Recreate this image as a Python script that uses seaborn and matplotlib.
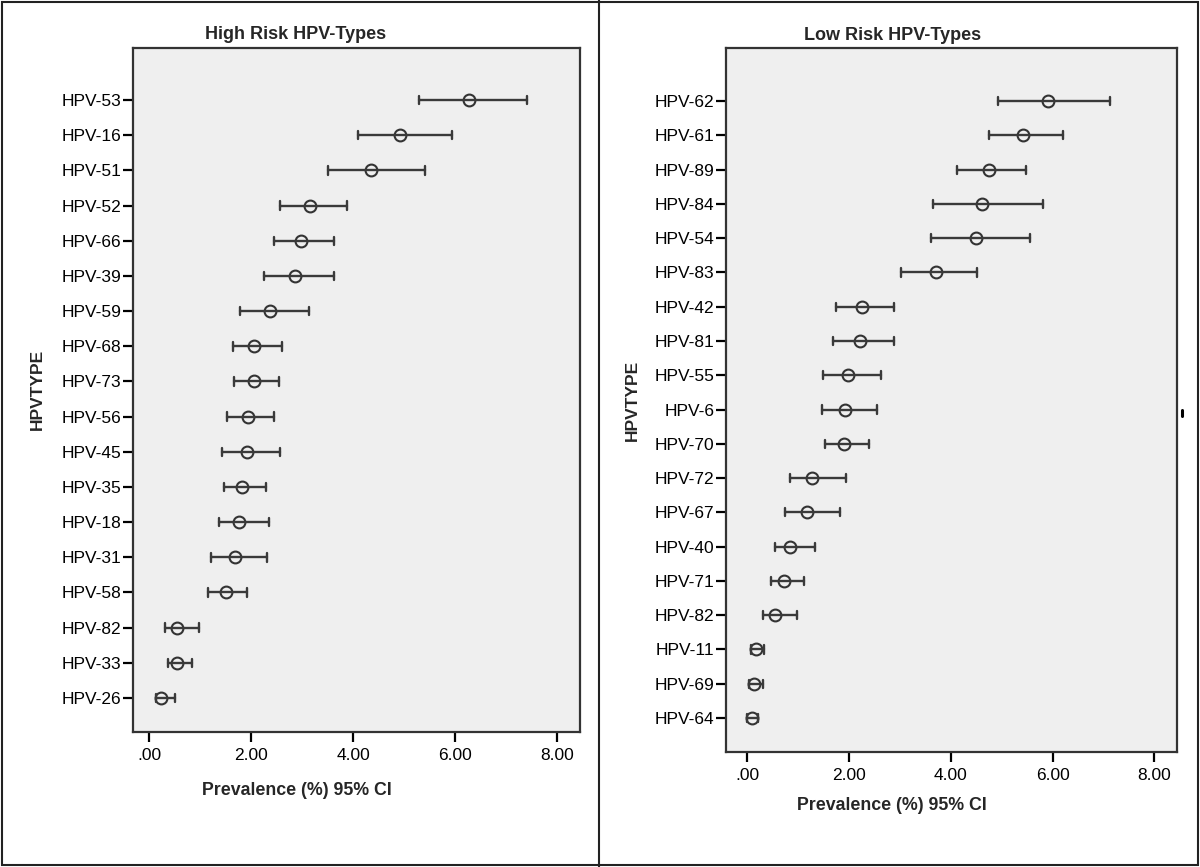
import pandas as pd
import matplotlib.pyplot as plt
import seaborn as sns
from matplotlib.lines import Line2D
from matplotlib.patches import Rectangle

# High risk HPV types: prevalence (%) with 95% CI
high_types = ['HPV-53', 'HPV-16', 'HPV-51', 'HPV-52', 'HPV-66', 'HPV-39', 'HPV-59', 'HPV-68', 'HPV-73',
              'HPV-56', 'HPV-45', 'HPV-35', 'HPV-18', 'HPV-31', 'HPV-58', 'HPV-82', 'HPV-33', 'HPV-26']
high_prev = [6.26, 4.92, 4.35, 3.15, 2.97, 2.85, 2.37, 2.06, 2.05, 1.93, 1.92, 1.82, 1.77, 1.68, 1.50, 0.55, 0.55, 0.24]
high_lo = [5.29, 4.09, 3.50, 2.56, 2.44, 2.25, 1.78, 1.64, 1.66, 1.52, 1.43, 1.46, 1.36, 1.21, 1.16, 0.31, 0.37, 0.13]
high_hi = [7.41, 5.93, 5.40, 3.87, 3.62, 3.62, 3.14, 2.60, 2.54, 2.44, 2.57, 2.29, 2.35, 2.30, 1.91, 0.98, 0.84, 0.50]

# Low risk HPV types
low_types = ['HPV-62', 'HPV-61', 'HPV-89', 'HPV-84', 'HPV-54', 'HPV-83', 'HPV-42', 'HPV-81', 'HPV-55', 'HPV-6',
             'HPV-70', 'HPV-72', 'HPV-67', 'HPV-40', 'HPV-71', 'HPV-82', 'HPV-11', 'HPV-69', 'HPV-64']
low_prev = [5.92, 5.42, 4.76, 4.61, 4.49, 3.70, 2.26, 2.22, 1.99, 1.93, 1.91, 1.28, 1.17, 0.85, 0.73, 0.55, 0.17, 0.13, 0.09]
low_lo = [4.93, 4.75, 4.12, 3.66, 3.62, 3.03, 1.75, 1.68, 1.49, 1.47, 1.53, 0.85, 0.75, 0.54, 0.46, 0.31, 0.07, 0.04, 0.00]
low_hi = [7.13, 6.21, 5.47, 5.81, 5.56, 4.52, 2.89, 2.89, 2.62, 2.55, 2.40, 1.94, 1.83, 1.33, 1.11, 0.97, 0.32, 0.31, 0.21]

xticks = [0, 2, 4, 6, 8]
xticklabels = ['.00', '2.00', '4.00', '6.00', '8.00']

sns.set_theme(style='ticks')
plt.rcParams['font.family'] = ['Liberation Sans', 'DejaVu Sans']

ink = '#333333'


def long_table(types, prev, lo, hi):
    # three rows per type: lower bound, estimate, upper bound
    rows = []
    for t, p, l, h in zip(types, prev, lo, hi):
        rows += [(t, l), (t, p), (t, h)]
    return pd.DataFrame(rows, columns=['HPVTYPE', 'value'])


def panel(ax, types, prev, lo, hi, title, xlim, ylim, title_x, xlab_xy, ylab_x):
    df = long_table(types, prev, lo, hi)
    sns.pointplot(data=df, x='value', y='HPVTYPE', order=types, ax=ax,
                  estimator='median', errorbar=lambda v: (v.min(), v.max()),
                  linestyle='none', color=ink, markers='o', markersize=8.5,
                  markeredgewidth=1.5, markerfacecolor='none', capsize=0.24,
                  err_kws={'linestyle': '-', 'linewidth': 1.7, 'color': '#3a3a3a'})
    ax.set_facecolor('#efefef')
    ax.set_xlim(*xlim)
    ax.set_ylim(*ylim)
    ax.set_xticks(xticks)
    ax.set_xticklabels(xticklabels)
    ax.tick_params(axis='both', labelsize=12.5, colors='black', width=1.6, length=7.5)
    ax.tick_params(axis='y', pad=1)
    ax.tick_params(axis='x', pad=4)
    for s in ax.spines.values():
        s.set_visible(True)
        s.set_color(ink)
        s.set_linewidth(1.6)
    ax.set_title(title, fontsize=13, fontweight='bold', x=title_x, pad=6)
    ax.set_xlabel('Prevalence (%) 95% CI', fontsize=12.8, fontweight='bold')
    ax.xaxis.set_label_coords(*xlab_xy)
    ax.set_ylabel('HPVTYPE', fontsize=12.5, fontweight='bold')
    ax.yaxis.set_label_coords(ylab_x, 0.5)


fig = plt.figure(figsize=(12, 8.67), dpi=100)
ax1 = fig.add_axes([0.1107, 0.156, 0.3725, 0.789])
ax2 = fig.add_axes([0.6053, 0.1323, 0.3753, 0.812])

panel(ax1, high_types, high_prev, high_lo, high_hi, 'High Risk HPV-Types',
      (-0.32, 8.44), (17.96, -1.49), 0.365, (0.367, -0.073), -0.196)
panel(ax2, low_types, low_prev, low_lo, low_hi, 'Low Risk HPV-Types',
      (-0.41, 8.44), (19.0, -1.54), 0.369, (0.368, -0.064), -0.192)

# outer frame and divider between the two panels
fig.add_artist(Rectangle((0.002, 0.002), 0.996, 0.996, transform=fig.transFigure,
                         fill=False, edgecolor='#222222', linewidth=1.5))
fig.add_artist(Line2D([0.4995, 0.4995], [0.0, 1.0], transform=fig.transFigure,
                      color='#222222', linewidth=1.5))
fig.add_artist(Line2D([0.9848, 0.9848], [0.520, 0.527], transform=fig.transFigure,
                      color='black', linewidth=2.2))

fig.savefig('out.png', dpi=100, facecolor='white')
